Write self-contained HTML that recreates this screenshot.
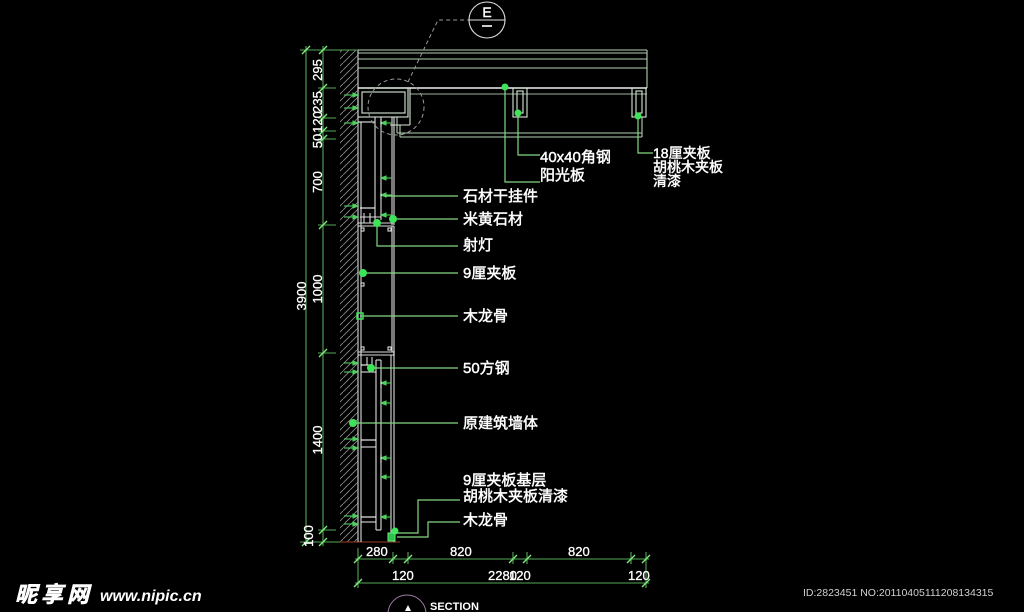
<!DOCTYPE html>
<html><head><meta charset="utf-8"><style>
html,body{margin:0;padding:0;background:#000;width:1024px;height:612px;overflow:hidden}
svg{display:block}
text{font-family:"Liberation Sans","Noto Sans CJK SC",sans-serif;fill:#fff}
.lb{font-size:15px;stroke:#fff;stroke-width:0.45}
.dm{stroke:#fff;stroke-width:0.3}
</style></head><body>
<svg width="1024" height="612" viewBox="0 0 1024 612" xmlns="http://www.w3.org/2000/svg">
<defs>
<pattern id="h" patternUnits="userSpaceOnUse" width="7" height="7"><line x1="-1" y1="8" x2="8" y2="-1" stroke="#8a8a8a" stroke-width="0.9"/></pattern>
</defs>
<rect width="1024" height="612" fill="#000"/>

<!-- hatched wall -->
<rect x="340" y="50" width="18" height="492" fill="url(#h)"/>
<line x1="340" y1="542" x2="400" y2="542" stroke="#7a3020" stroke-width="1.2"/>

<!-- ceiling -->
<g stroke="#b5d0b5" stroke-width="1.1" fill="none">
<line x1="358" y1="50" x2="647" y2="50"/>
<line x1="358" y1="53" x2="647" y2="53"/>
<line x1="358" y1="59" x2="647" y2="59"/>
<line x1="358" y1="68" x2="647" y2="68"/>
<line x1="647" y1="50" x2="647" y2="88"/>
<line x1="410" y1="94" x2="647" y2="94" stroke="#9ab59a"/>
<line x1="397" y1="133" x2="642" y2="133"/>
<line x1="400" y1="137" x2="642" y2="137"/>
<line x1="642" y1="117" x2="642" y2="137"/>
<line x1="397" y1="117" x2="397" y2="133"/>
<line x1="400" y1="125" x2="400" y2="137"/>
</g>
<line x1="358" y1="88" x2="647" y2="88" stroke="#f0f0f0" stroke-width="1.6"/>
<g stroke="#d8e8d8" stroke-width="1.1" fill="none">
<rect x="358" y="88" width="50" height="29"/>
<rect x="362" y="92" width="43" height="21"/>
<line x1="410" y1="88" x2="410" y2="125"/>
<line x1="390" y1="125" x2="410" y2="125"/>
<rect x="513" y="88" width="14" height="29"/>
<rect x="517" y="91" width="6" height="22"/>
<rect x="632" y="88" width="14" height="29"/>
<rect x="636" y="91" width="6" height="22"/>
</g>

<!-- wall face -->
<line x1="358" y1="50" x2="358" y2="542" stroke="#d8d8d8" stroke-width="1.1"/>

<!-- upper stone section -->
<g stroke="#dcdcdc" stroke-width="1.1" fill="none">
<line x1="361" y1="122" x2="361" y2="542"/>
<line x1="375" y1="117" x2="375" y2="220"/>
<line x1="381" y1="117" x2="381" y2="220"/>
<line x1="392" y1="117" x2="392" y2="225"/>
<line x1="394" y1="117" x2="394" y2="225"/>
<line x1="375" y1="117" x2="394" y2="117"/>
<line x1="358" y1="122" x2="375" y2="122" stroke="#fff"/>
<line x1="360" y1="208" x2="375" y2="208" stroke="#fff"/>
<line x1="360" y1="217" x2="381" y2="217"/>
<line x1="358" y1="223" x2="394" y2="223"/>
<line x1="364" y1="213" x2="364" y2="223"/>
<line x1="370" y1="213" x2="370" y2="223"/>
<!-- middle box -->
<line x1="358" y1="226" x2="394" y2="226"/>
<line x1="358" y1="352" x2="394" y2="352"/>
<line x1="358" y1="355" x2="394" y2="355"/>
<line x1="392" y1="226" x2="392" y2="352"/>
<line x1="394" y1="226" x2="394" y2="542"/>
<line x1="391" y1="355" x2="391" y2="536"/>
<rect x="361" y="228" width="3" height="3"/>
<rect x="388" y="228" width="3" height="3"/>
<rect x="361" y="347" width="3" height="3"/>
<rect x="388" y="347" width="3" height="3"/>
<rect x="361" y="283" width="3" height="3"/>
<!-- lower section -->
<line x1="376" y1="360" x2="376" y2="530"/>
<line x1="381" y1="360" x2="381" y2="530"/>
<line x1="376" y1="360" x2="381" y2="360"/>
<line x1="376" y1="530" x2="381" y2="530"/>
<line x1="361" y1="365" x2="372" y2="365" stroke="#fff"/>
<line x1="361" y1="372" x2="376" y2="372"/>
<line x1="361" y1="440" x2="376" y2="440" stroke="#fff"/>
<line x1="361" y1="447" x2="376" y2="447"/>
<line x1="361" y1="517" x2="376" y2="517" stroke="#fff"/>
<line x1="361" y1="522" x2="376" y2="522"/>
<line x1="367" y1="357" x2="367" y2="365"/>
<line x1="372" y1="357" x2="372" y2="372"/>
</g>

<!-- small green anchor arrows -->
<g stroke="#4fcf5f" stroke-width="1.1" fill="#4fcf5f">
<line x1="344" y1="95" x2="355" y2="95"/><polygon points="358,95 353,93 353,97"/>
<line x1="344" y1="108" x2="355" y2="108"/><polygon points="358,108 353,106 353,110"/>
<line x1="344" y1="123" x2="355" y2="123"/><polygon points="358,123 353,121 353,125"/>
<line x1="344" y1="206" x2="355" y2="206"/><polygon points="358,206 353,204 353,208"/>
<line x1="344" y1="217" x2="355" y2="217"/><polygon points="358,217 353,215 353,219"/>
<line x1="344" y1="363" x2="355" y2="363"/><polygon points="358,363 353,361 353,365"/>
<line x1="344" y1="372" x2="355" y2="372"/><polygon points="358,372 353,370 353,374"/>
<line x1="344" y1="439" x2="355" y2="439"/><polygon points="358,439 353,437 353,441"/>
<line x1="344" y1="448" x2="355" y2="448"/><polygon points="358,448 353,446 353,450"/>
<line x1="344" y1="516" x2="355" y2="516"/><polygon points="358,516 353,514 353,518"/>
<line x1="344" y1="524" x2="355" y2="524"/><polygon points="358,524 353,522 353,526"/>
<line x1="392" y1="123" x2="384" y2="123"/><polygon points="381,123 386,121 386,125"/>
<line x1="392" y1="178" x2="384" y2="178"/><polygon points="381,178 386,176 386,180"/>
<line x1="392" y1="195" x2="384" y2="195"/><polygon points="381,195 386,193 386,197"/>
<line x1="392" y1="215" x2="384" y2="215"/><polygon points="381,215 386,213 386,217"/>
<line x1="391" y1="383" x2="384" y2="383"/><polygon points="381,383 386,381 386,385"/>
<line x1="391" y1="403" x2="384" y2="403"/><polygon points="381,403 386,401 386,405"/>
<line x1="391" y1="458" x2="384" y2="458"/><polygon points="381,458 386,456 386,460"/>
<line x1="391" y1="477" x2="384" y2="477"/><polygon points="381,477 386,475 386,479"/>
<line x1="391" y1="517" x2="384" y2="517"/><polygon points="381,517 386,515 386,519"/>
</g>
<g stroke="#fff" stroke-width="1">
<line x1="381" y1="119" x2="381" y2="127"/>
<line x1="381" y1="193" x2="381" y2="199"/>
<line x1="381" y1="380" x2="381" y2="388"/>
<line x1="381" y1="455" x2="381" y2="463"/>
<line x1="394" y1="350" x2="394" y2="356"/>
</g>

<!-- dashed detail circle + leader + E marker -->
<circle cx="396" cy="107" r="28" fill="none" stroke="#9a9a9a" stroke-width="1" stroke-dasharray="4,3"/>
<polyline points="408,82 438,20 469,20" fill="none" stroke="#9a9a9a" stroke-width="1" stroke-dasharray="4,3"/>
<circle cx="487" cy="20" r="18" fill="none" stroke="#e0e0e0" stroke-width="1.1"/>
<line x1="469" y1="20" x2="505" y2="20" stroke="#e0e0e0" stroke-width="1.1"/>
<text x="487" y="17" font-size="14" text-anchor="middle" stroke="#fff" stroke-width="0.4">E</text>
<line x1="482" y1="26" x2="492" y2="26" stroke="#fff" stroke-width="1.6"/>

<!-- leaders -->
<g stroke="#82d882" stroke-width="1.2" fill="none">
<polyline points="518,113 518,155 540,155"/>
<polyline points="505,87 505,182 540,182"/>
<polyline points="638,116 638,153 653,153"/>
<line x1="385" y1="196" x2="458" y2="196"/>
<line x1="393" y1="219" x2="458" y2="219"/>
<polyline points="377,223 377,246 458,246"/>
<line x1="363" y1="273" x2="458" y2="273"/>
<line x1="360" y1="316" x2="458" y2="316"/>
<line x1="371" y1="368" x2="458" y2="368"/>
<line x1="353" y1="423" x2="458" y2="423"/>
<polyline points="397,533 418,533 418,500 460,500"/>
<polyline points="397,537 428,537 428,522 460,522"/>
</g>

<!-- green dots -->
<g fill="#3ee35a">
<circle cx="505" cy="87" r="3.5"/>
<circle cx="518" cy="113" r="3.5"/>
<circle cx="638" cy="116" r="3.5"/>
<circle cx="393" cy="219" r="4"/>
<circle cx="377" cy="223" r="4"/>
<circle cx="363" cy="273" r="4"/>
<circle cx="371" cy="368" r="4"/>
<circle cx="353" cy="423" r="4"/>
<circle cx="395" cy="531" r="3.5"/>
</g>
<rect x="357" y="313" width="6" height="6" fill="none" stroke="#3ee35a" stroke-width="1.5"/>
<rect x="388" y="533" width="7" height="8" fill="#2fbf4a" stroke="#5fef7a" stroke-width="1"/>

<!-- labels -->
<text x="540" y="162" class="lb">40x40角钢</text>
<text x="540" y="180" class="lb">阳光板</text>
<text x="653" y="158" class="lb" font-size="14" style="font-size:14px">18厘夹板</text>
<text x="653" y="172" class="lb" style="font-size:14px">胡桃木夹板</text>
<text x="653" y="186" class="lb" style="font-size:14px">清漆</text>
<text x="463" y="201" class="lb">石材干挂件</text>
<text x="463" y="224" class="lb">米黄石材</text>
<text x="463" y="250" class="lb">射灯</text>
<text x="463" y="278" class="lb">9厘夹板</text>
<text x="463" y="321" class="lb">木龙骨</text>
<text x="463" y="373" class="lb">50方钢</text>
<text x="463" y="428" class="lb">原建筑墙体</text>
<text x="463" y="485" class="lb">9厘夹板基层</text>
<text x="463" y="501" class="lb">胡桃木夹板清漆</text>
<text x="463" y="525" class="lb">木龙骨</text>

<!-- left dimensions -->
<g stroke="#55a855" stroke-width="1.1">
<line x1="306" y1="46" x2="306" y2="546"/>
<line x1="323" y1="46" x2="323" y2="546"/>
<line x1="300" y1="50" x2="358" y2="50"/>
<line x1="318" y1="88" x2="336" y2="88"/>
<line x1="318" y1="118" x2="336" y2="118"/>
<line x1="318" y1="131" x2="336" y2="131"/>
<line x1="318" y1="139" x2="336" y2="139"/>
<line x1="318" y1="225" x2="336" y2="225"/>
<line x1="318" y1="353" x2="336" y2="353"/>
<line x1="318" y1="530" x2="336" y2="530"/>
<line x1="300" y1="542" x2="340" y2="542"/>
</g>
<g stroke="#7ef07e" stroke-width="1.3">
<line x1="302" y1="54" x2="310" y2="46"/>
<line x1="302" y1="546" x2="310" y2="538"/>
<line x1="319" y1="54" x2="327" y2="46"/>
<line x1="319" y1="92" x2="327" y2="84"/>
<line x1="319" y1="122" x2="327" y2="114"/>
<line x1="319" y1="135" x2="327" y2="127"/>
<line x1="319" y1="143" x2="327" y2="135"/>
<line x1="319" y1="229" x2="327" y2="221"/>
<line x1="319" y1="357" x2="327" y2="349"/>
<line x1="319" y1="534" x2="327" y2="526"/>
<line x1="319" y1="546" x2="327" y2="538"/>
</g>
<g class="dm" font-size="13">
<text transform="translate(322,70) rotate(-90)" text-anchor="middle">295</text>
<text transform="translate(322,102) rotate(-90)" text-anchor="middle">235</text>
<text transform="translate(322,122) rotate(-90)" text-anchor="middle">120</text>
<text transform="translate(322,141) rotate(-90)" text-anchor="middle">50</text>
<text transform="translate(322,182) rotate(-90)" text-anchor="middle">700</text>
<text transform="translate(322,289) rotate(-90)" text-anchor="middle">1000</text>
<text transform="translate(306,296) rotate(-90)" text-anchor="middle">3900</text>
<text transform="translate(322,440) rotate(-90)" text-anchor="middle">1400</text>
<text transform="translate(313,536) rotate(-90)" text-anchor="middle">100</text>
</g>

<!-- bottom dimensions -->
<g stroke="#55a855" stroke-width="1.1">
<line x1="355" y1="559" x2="649" y2="559"/>
<line x1="355" y1="583" x2="649" y2="583"/>
<line x1="358" y1="548" x2="358" y2="588"/>
<line x1="393" y1="552" x2="393" y2="564"/>
<line x1="408" y1="552" x2="408" y2="564"/>
<line x1="513" y1="552" x2="513" y2="564"/>
<line x1="527" y1="552" x2="527" y2="564"/>
<line x1="631" y1="552" x2="631" y2="564"/>
<line x1="646" y1="552" x2="646" y2="588"/>
</g>
<g stroke="#7ef07e" stroke-width="1.3">
<line x1="354" y1="563" x2="362" y2="555"/>
<line x1="389" y1="563" x2="397" y2="555"/>
<line x1="404" y1="563" x2="412" y2="555"/>
<line x1="509" y1="563" x2="517" y2="555"/>
<line x1="523" y1="563" x2="531" y2="555"/>
<line x1="627" y1="563" x2="635" y2="555"/>
<line x1="642" y1="563" x2="650" y2="555"/>
<line x1="354" y1="587" x2="362" y2="579"/>
<line x1="642" y1="587" x2="650" y2="579"/>
</g>
<g class="dm" font-size="13">
<text x="366" y="556">280</text>
<text x="450" y="556">820</text>
<text x="568" y="556">820</text>
<text x="392" y="580">120</text>
<text x="488" y="580">2280</text>
<text x="509" y="580">120</text>
<text x="628" y="580">120</text>
</g>

<!-- section marker -->
<circle cx="407" cy="614" r="19" fill="none" stroke="#9c7ca8" stroke-width="1"/>
<polygon points="408,605 405,611 411,611" fill="#fff"/>
<text x="430" y="610" font-size="11" font-weight="bold">SECTION</text>

<!-- watermark -->
<text x="15" y="602" font-size="22" font-weight="bold" font-style="italic" letter-spacing="4" stroke="#fff" stroke-width="0.6">昵享网</text>
<text x="100" y="601" font-size="16" font-weight="bold" font-style="italic">www.nipic.cn</text>
<text x="803" y="596" font-size="10.5" style="fill:#d0d0d0">ID:2823451 NO:20110405111208134315</text>
</svg>
</body></html>
